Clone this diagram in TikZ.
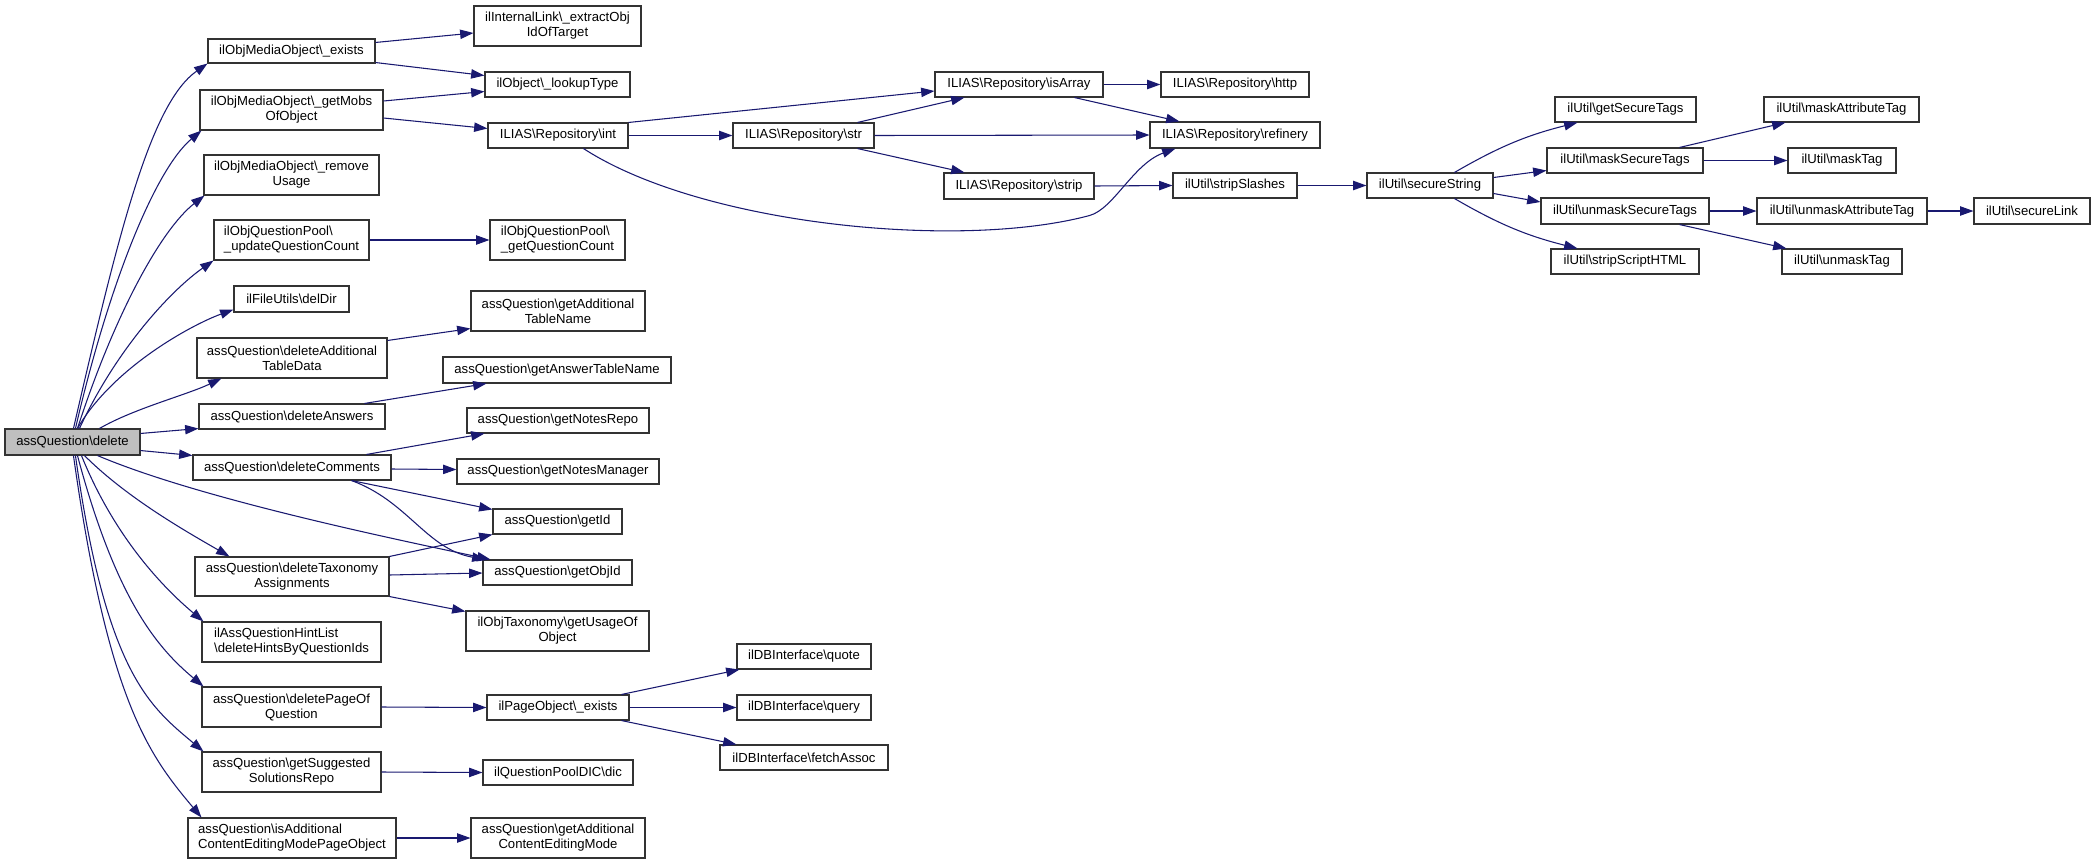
\documentclass[tikz,border=0pt]{standalone}
\usepackage{fontspec}
\setmainfont{Liberation Sans}
\usetikzlibrary{arrows.meta,calc}
\definecolor{edgeblue}{HTML}{191970}
\definecolor{rootfill}{HTML}{BFBFBF}
\newcommand\bsl{\textbackslash}
\newcommand\bx[7][]{\node[box,#1,minimum width={(#5-#3)*0.75pt},minimum height={(#6-#4)*0.75pt}] (#2) at ({(#3+#5)/2},{-(#4+#6)/2}) {#7};}
\tikzset{
  box/.style={draw=black!80,line width=0.8pt,fill=white,inner sep=0pt,align=center,
    font=\fontsize{9.85}{11.25}\selectfont},
  edge/.style={draw=edgeblue,line width=0.8pt,-{Triangle[length=10pt,width=7pt]}}
}
\begin{document}
\begin{tikzpicture}[x=0.75pt,y=0.75pt]
\useasboundingbox (0,0) rectangle (2095,-864);
% column 0
\bx[fill=rootfill]{root}{5}{429}{140}{455}{assQuestion\bsl delete}
% column 1
\bx{exists}{208}{39}{375}{63}{ilObjMediaObject\bsl\_exists}
\bx{getMobs}{200}{90}{383}{130}{ilObjMediaObject\bsl\_getMobs\\OfObject}
\bx{removeUsage}{204}{155}{379}{195}{ilObjMediaObject\bsl\_remove\\Usage}
\bx[align=left]{updateQ}{214}{220}{369}{260}{ilObjQuestionPool\bsl\\\_updateQuestionCount}
\bx{delDir}{234}{286}{349}{312}{ilFileUtils\bsl delDir}
\bx{deleteAdd}{197}{338}{387}{378}{assQuestion\bsl deleteAdditional\\TableData}
\bx{deleteAns}{199}{404}{385}{429}{assQuestion\bsl deleteAnswers}
\bx{deleteCom}{193}{455}{391}{480}{assQuestion\bsl deleteComments}
\bx{deleteTax}{195}{557}{389}{596}{assQuestion\bsl deleteTaxonomy\\Assignments}
\bx[align=left]{hintList}{202}{622}{381}{662}{ilAssQuestionHintList\\\bsl deleteHintsByQuestionIds}
\bx{deletePage}{202}{687}{381}{727}{assQuestion\bsl deletePageOf\\Question}
\bx{getSugg}{202}{752}{381}{792}{assQuestion\bsl getSuggested\\SolutionsRepo}
\bx[align=left]{isAdd}{188}{818}{396}{858}{assQuestion\bsl isAdditional\\ContentEditingModePageObject}
% column 2
\bx{internalLink}{474}{6}{641}{46}{ilInternalLink\bsl\_extractObj\\IdOfTarget}
\bx{lookupType}{485}{72}{630}{97}{ilObject\bsl\_lookupType}
\bx{int}{488}{123}{628}{148}{ILIAS\bsl Repository\bsl int}
\bx[align=left]{getQC}{490}{220}{625}{260}{ilObjQuestionPool\bsl\\\_getQuestionCount}
\bx{getATN}{471}{291}{645}{331}{assQuestion\bsl getAdditional\\TableName}
\bx{getAnsTN}{443}{357}{671}{383}{assQuestion\bsl getAnswerTableName}
\bx{notesRepo}{467}{408}{649}{433}{assQuestion\bsl getNotesRepo}
\bx{notesMgr}{457}{459}{659}{484}{assQuestion\bsl getNotesManager}
\bx{getId}{493}{509}{622}{534}{assQuestion\bsl getId}
\bx{getObjId}{483}{560}{632}{585}{assQuestion\bsl getObjId}
\bx{getUsage}{466}{611}{649}{651}{ilObjTaxonomy\bsl getUsageOf\\Object}
\bx{pageEx}{487}{695}{629}{720}{ilPageObject\bsl\_exists}
\bx{dic}{483}{760}{633}{785}{ilQuestionPoolDIC\bsl dic}
\bx{getACEM}{471}{818}{645}{858}{assQuestion\bsl getAdditional\\ContentEditingMode}
% column 3
\bx{str}{733}{123}{874}{148}{ILIAS\bsl Repository\bsl str}
\bx{quote}{737}{644}{871}{669}{ilDBInterface\bsl quote}
\bx{query}{737}{695}{871}{720}{ilDBInterface\bsl query}
\bx{fetch}{720}{745}{888}{770}{ilDBInterface\bsl fetchAssoc}
% column 4
\bx{isArray}{935}{72}{1103}{97}{ILIAS\bsl Repository\bsl isArray}
\bx{strip}{944}{173}{1094}{199}{ILIAS\bsl Repository\bsl strip}
% column 5
\bx{http}{1161}{72}{1309}{97}{ILIAS\bsl Repository\bsl http}
\bx{refinery}{1150}{122}{1320}{148}{ILIAS\bsl Repository\bsl refinery}
\bx{stripSl}{1173}{173}{1297}{198}{ilUtil\bsl stripSlashes}
% column 6
\bx{secStr}{1367}{173}{1493}{198}{ilUtil\bsl secureString}
% column 7
\bx{getSec}{1555}{97}{1696}{122}{ilUtil\bsl getSecureTags}
\bx{maskSec}{1547}{148}{1703}{173}{ilUtil\bsl maskSecureTags}
\bx{unmaskSec}{1541}{198}{1709}{224}{ilUtil\bsl unmaskSecureTags}
\bx{stripScr}{1551}{249}{1699}{274}{ilUtil\bsl stripScriptHTML}
% column 8
\bx{maskAttr}{1764}{97}{1919}{122}{ilUtil\bsl maskAttributeTag}
\bx{maskTag}{1788}{148}{1896}{173}{ilUtil\bsl maskTag}
\bx{unmaskAttr}{1757}{198}{1927}{224}{ilUtil\bsl unmaskAttributeTag}
\bx{unmaskTag}{1782}{249}{1902}{274}{ilUtil\bsl unmaskTag}
% column 9
\bx{secureLink}{1974}{198}{2090}{224}{ilUtil\bsl secureLink}

% ---- edges from root
\draw[edge] ($(root.north west)+(69,0)$) .. controls +(77:200) and +(215:70) .. (exists.south west);
\draw[edge] ($(root.north west)+(71,0)$) .. controls +(77:150) and +(220:60) .. ($(getMobs.south west)+(2,0)$);
\draw[edge] ($(root.north west)+(73,0)$) .. controls +(72:120) and +(218:55) .. ($(removeUsage.south west)+(1,0)$);
\draw[edge] ($(root.north west)+(75,0)$) .. controls +(65:90) and +(215:50) .. (updateQ.south west);
\draw[edge] ($(root.north west)+(73,0)$) .. controls +(60:70) and +(200:45) .. ($(delDir.south west)+(0,3)$);
\draw[edge] ($(root.north west)+(95,0)$) .. controls +(30:40) and +(205:40) .. ($(deleteAdd.south west)+(25,0)$);
\draw[edge] ($(root.north east)+(0,-5)$) -- ($(deleteAns.south west)+(0,1)$);
\draw[edge] ($(root.south east)+(0,5)$) -- ($(deleteCom.north west)+(0,-1)$);
\draw[edge] ($(root.south west)+(93,0)$) .. controls +(-23:110) and +(168:100) .. ($(getObjId.north west)+(8,0)$);
\draw[edge] ($(root.south west)+(80,0)$) .. controls +(-45:60) and +(150:50) .. ($(deleteTax.north west)+(35,0)$);
\draw[edge] ($(root.south west)+(77,0)$) .. controls +(-68:90) and +(140:50) .. ($(hintList.north west)+(2,0)$);
\draw[edge] ($(root.south west)+(73,0)$) .. controls +(-75:150) and +(140:60) .. ($(deletePage.north west)+(2,0)$);
\draw[edge] ($(root.south west)+(71,0)$) .. controls +(-82:220) and +(140:70) .. ($(getSugg.north west)+(2,0)$);
\draw[edge] ($(root.south west)+(69,0)$) .. controls +(-82:250) and +(130:80) .. ($(isAdd.north west)+(14,0)$);
% ---- column 1 edges
\draw[edge] ($(exists.north east)+(0,-4)$) -- ($(internalLink.west)+(0,-7)$);
\draw[edge] ($(exists.south east)+(0,1)$) -- ($(lookupType.west)+(0,9)$);
\draw[edge] ($(getMobs.east)+(0,9)$) -- ($(lookupType.west)+(0,-7)$);
\draw[edge] ($(getMobs.east)+(0,-8)$) -- ($(int.west)+(0,7)$);
\draw[edge] (updateQ.east) -- (getQC.west);
\draw[edge] ($(deleteAdd.north east)+(0,-3)$) -- ($(getATN.south west)+(0,3)$);
\draw[edge] ($(deleteAns.north west)+(166,0)$) -- ($(getAnsTN.south west)+(44,0)$);
\draw[edge] ($(deleteCom.north west)+(174,0)$) -- ($(notesRepo.south west)+(18,0)$);
\draw[edge] ($(deleteCom.east)+(0,-1.5)$) -- ($(notesMgr.west)+(0,2)$);
\draw[edge] ($(deleteCom.south west)+(159,0)$) -- ($(getId.north west)+(0,-1)$);
\draw[edge] ($(deleteCom.south west)+(159,0)$) .. controls +(-20:60) and +(170:60) .. ($(getObjId.north west)+(3,0)$);
\draw[edge] (deleteTax.north east) -- (getId.south west);
\draw[edge] ($(deleteTax.east)+(0,1.5)$) -- ($(getObjId.west)+(0,-0.5)$);
\draw[edge] (deleteTax.south east) -- ($(getUsage.north west)+(0,-1)$);
\draw[edge] (deletePage.east) -- (pageEx.west);
\draw[edge] (getSugg.east) -- (dic.west);
\draw[edge] (isAdd.east) -- (getACEM.west);
% ---- column 2 edges
\draw[edge] (int.north east) -- ($(isArray.west)+(0,-6.5)$);
\draw[edge] (int.east) -- (str.west);
\draw[edge] ($(int.south west)+(96,0)$) .. controls +(-33:140) and +(195:135) .. ($(refinery.south west)+(-60,-67)$)
   .. controls +(15:25) and +(200:45) .. ($(refinery.south west)+(26,0)$);
\draw[edge] ($(pageEx.north west)+(135,0)$) -- ($(quote.south west)+(3,0)$);
\draw[edge] (pageEx.east) -- (query.west);
\draw[edge] ($(pageEx.south west)+(135,0)$) -- ($(fetch.north west)+(17,0)$);
% ---- column 3/4 edges
\draw[edge] ($(str.north west)+(125,0)$) -- ($(isArray.south west)+(30,0)$);
\draw[edge] (str.east) -- (refinery.west);
\draw[edge] ($(str.south west)+(125,0)$) -- ($(strip.north west)+(21,0)$);
\draw[edge] (isArray.east) -- (http.west);
\draw[edge] ($(isArray.south west)+(140,0)$) -- ($(refinery.north west)+(30,0)$);
\draw[edge] (strip.east) -- (stripSl.west);
\draw[edge] (stripSl.east) -- (secStr.west);
% ---- ilUtil edges
\draw[edge] ($(secStr.north west)+(88,0)$) to[bend left=8] ($(getSec.south west)+(23,0)$);
\draw[edge] ($(secStr.east)+(0,8)$) -- ($(maskSec.west)+(0,-10)$);
\draw[edge] ($(secStr.east)+(0,-8)$) -- ($(unmaskSec.west)+(0,9)$);
\draw[edge] ($(secStr.south west)+(88,0)$) to[bend right=8] ($(stripScr.north west)+(27,0)$);
\draw[edge] ($(maskSec.north west)+(133,0)$) -- ($(maskAttr.south west)+(22,0)$);
\draw[edge] (maskSec.east) -- (maskTag.west);
\draw[edge] (unmaskSec.east) -- (unmaskAttr.west);
\draw[edge] ($(unmaskSec.south west)+(139,0)$) -- ($(unmaskTag.north west)+(5,0)$);
\draw[edge] (unmaskAttr.east) -- (secureLink.west);
\end{tikzpicture}
\end{document}
